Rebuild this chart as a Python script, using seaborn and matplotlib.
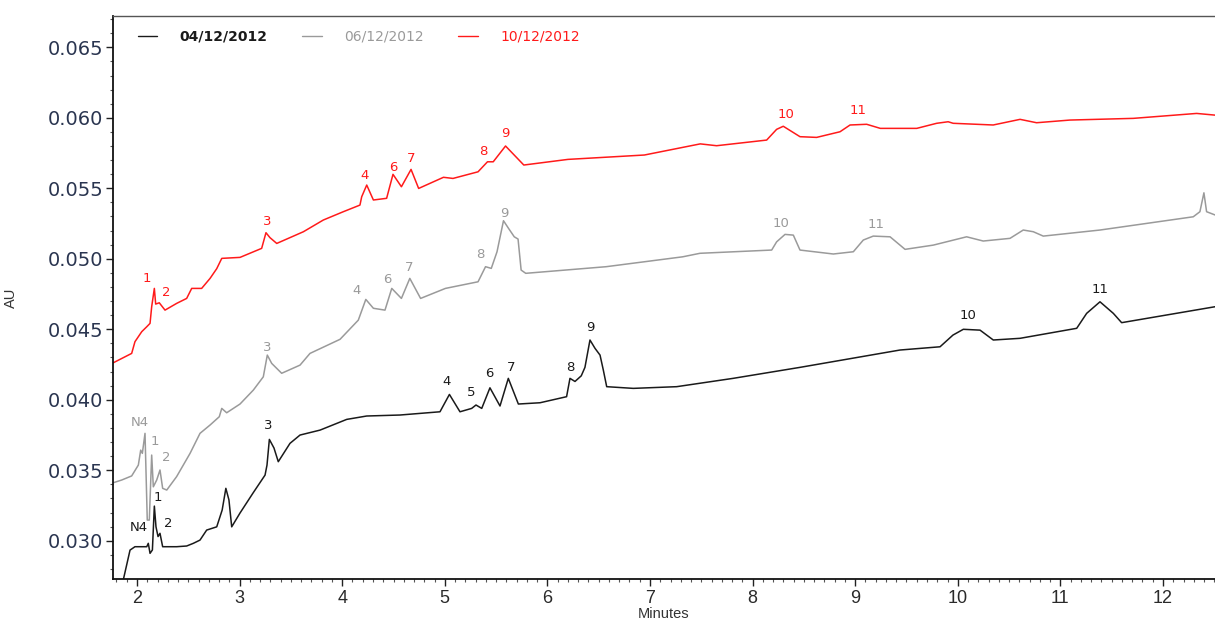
import numpy as np
import pandas as pd
import matplotlib
matplotlib.use("Agg")
import matplotlib.pyplot as plt
from matplotlib.ticker import MultipleLocator, FormatStrFormatter
import seaborn as sns

# Chromatogram traces: retention time (min) and absorbance (AU)
t_0412 = [1.866, 1.932, 1.980, 2.095, 2.110, 2.127, 2.150, 2.169, 2.185, 2.205,
          2.224, 2.250, 2.386, 2.484, 2.549, 2.614, 2.679, 2.777, 2.830, 2.866,
          2.896, 2.923, 3.004, 3.131, 3.248, 3.267, 3.290, 3.335, 3.377, 3.491,
          3.589, 3.784, 4.044, 4.239, 4.563, 4.953, 5.045, 5.148, 5.262, 5.304,
          5.360, 5.440, 5.538, 5.619, 5.717, 5.928, 6.187, 6.220, 6.269, 6.330,
          6.366, 6.415, 6.464, 6.513, 6.545, 6.578, 6.837, 7.260, 7.810, 8.462,
          9.437, 9.827, 9.953, 10.054, 10.217, 10.346, 10.607, 11.159, 11.256,
          11.386, 11.516, 11.597, 12.507]
au_0412 = [0.02722, 0.02934, 0.02958, 0.02958, 0.02982, 0.02911, 0.02935, 0.03246, 0.03099, 0.03030,
           0.03053, 0.02958, 0.02958, 0.02963, 0.02982, 0.03005, 0.03076, 0.03099, 0.03218, 0.03372,
           0.03290, 0.03099, 0.03197, 0.03339, 0.03466, 0.03537, 0.03719, 0.03658, 0.03561, 0.03691,
           0.03750, 0.03785, 0.03861, 0.03885, 0.03892, 0.03915, 0.04038, 0.03915, 0.03939, 0.03963,
           0.03939, 0.04085, 0.03956, 0.04152, 0.03970, 0.03979, 0.04022, 0.04152, 0.04130, 0.04170,
           0.04230, 0.04424, 0.04365, 0.04317, 0.04211, 0.04093, 0.04081, 0.04093, 0.04152, 0.04230,
           0.04353, 0.04376, 0.04459, 0.04500, 0.04494, 0.04424, 0.04436, 0.04507, 0.04613,
           0.04695, 0.04613, 0.04547, 0.04660]

t_0612 = [1.770, 1.851, 1.948, 2.013, 2.036, 2.052, 2.078, 2.100, 2.120, 2.143,
          2.159, 2.192, 2.224, 2.250, 2.290, 2.386, 2.517, 2.614, 2.712, 2.802,
          2.826, 2.874, 3.004, 3.134, 3.231, 3.270, 3.313, 3.410, 3.589, 3.686,
          3.979, 4.157, 4.230, 4.304, 4.417, 4.483, 4.577, 4.659, 4.764, 5.006,
          5.324, 5.397, 5.453, 5.509, 5.572, 5.621, 5.677, 5.714, 5.744, 5.789,
          6.573, 7.318, 7.487, 8.186, 8.234, 8.316, 8.397, 8.462, 8.787, 8.982,
          9.079, 9.176, 9.340, 9.486, 9.761, 10.086, 10.248, 10.509, 10.638, 10.736,
          10.833, 11.386, 12.295, 12.360, 12.399, 12.425, 12.507]
au_0612 = [0.03412, 0.03431, 0.03460, 0.03537, 0.03643, 0.03620, 0.03762, 0.03147, 0.03147, 0.03608,
           0.03383, 0.03431, 0.03502, 0.03372, 0.03360, 0.03455, 0.03620, 0.03762, 0.03821, 0.03880,
           0.03939, 0.03908, 0.03970, 0.04069, 0.04163, 0.04317, 0.04258, 0.04188, 0.04246, 0.04329,
           0.04429, 0.04565, 0.04712, 0.04649, 0.04636, 0.04790, 0.04719, 0.04861, 0.04719, 0.04790,
           0.04837, 0.04944, 0.04932, 0.05050, 0.05270, 0.05216, 0.05156, 0.05140, 0.04920, 0.04897,
           0.04944, 0.05014, 0.05039, 0.05062, 0.05120, 0.05173, 0.05168, 0.05062, 0.05034, 0.05050,
           0.05133, 0.05161, 0.05156, 0.05067, 0.05097, 0.05156, 0.05126, 0.05145, 0.05204, 0.05192,
           0.05161, 0.05204, 0.05298, 0.05334, 0.05468, 0.05334, 0.05311]

t_1012 = [1.770, 1.948, 1.980, 2.046, 2.095, 2.127, 2.143, 2.169, 2.182, 2.217,
          2.273, 2.387, 2.484, 2.533, 2.630, 2.712, 2.777, 2.826, 3.004, 3.215,
          3.257, 3.296, 3.362, 3.622, 3.816, 4.011, 4.173, 4.190, 4.239, 4.304,
          4.433, 4.495, 4.577, 4.671, 4.745, 4.987, 5.080, 5.324, 5.416, 5.472,
          5.592, 5.770, 6.200, 6.945, 7.490, 7.649, 8.137, 8.234, 8.299, 8.462,
          8.624, 8.852, 8.950, 9.112, 9.245, 9.600, 9.794, 9.906, 9.955, 10.345,
          10.607, 10.768, 11.093, 11.711, 12.328, 12.507]
au_1012 = [0.04263, 0.04329, 0.04412, 0.04483, 0.04518, 0.04542, 0.04660, 0.04790, 0.04679, 0.04688,
           0.04636, 0.04684, 0.04719, 0.04790, 0.04790, 0.04861, 0.04930, 0.05003, 0.05010, 0.05074,
           0.05185, 0.05150, 0.05109, 0.05192, 0.05275, 0.05334, 0.05381, 0.05440, 0.05523, 0.05417,
           0.05429, 0.05599, 0.05511, 0.05634, 0.05499, 0.05578, 0.05570, 0.05617, 0.05688, 0.05688,
           0.05800, 0.05665, 0.05705, 0.05736, 0.05815, 0.05802, 0.05842, 0.05918, 0.05940, 0.05866,
           0.05861, 0.05901, 0.05949, 0.05954, 0.05925, 0.05925, 0.05961, 0.05972, 0.05961, 0.05949,
           0.05989, 0.05965, 0.05984, 0.05996, 0.06031, 0.06019]

dates = ["04/12/2012", "06/12/2012", "10/12/2012"]
colors = ["#1a1a1a", "#9a9a9a", "#ff1a1a"]

# Peak annotations: label, time, absorbance
peaks_0412 = [("N4", 2.019, 0.03097), ("1", 2.205, 0.03310), ("2", 2.302, 0.03126),
              ("3", 3.277, 0.03821), ("4", 5.021, 0.04133), ("5", 5.255, 0.04055),
              ("6", 5.431, 0.04190), ("7", 5.645, 0.04232), ("8", 6.220, 0.04232),
              ("9", 6.415, 0.04516), ("10", 10.099, 0.04601), ("11", 11.386, 0.04785)]
peaks_0612 = [("N4", 2.029, 0.03842), ("1", 2.175, 0.03707), ("2", 2.283, 0.03594),
              ("3", 3.267, 0.04374), ("4", 4.144, 0.04778), ("6", 4.437, 0.04856),
              ("7", 4.651, 0.04941), ("8", 5.343, 0.05027), ("9", 5.577, 0.05324),
              ("10", 8.277, 0.05253), ("11", 9.203, 0.05246)]
peaks_1012 = [("1", 2.097, 0.04863), ("2", 2.283, 0.04764), ("3", 3.267, 0.05268),
              ("4", 4.222, 0.05594), ("6", 4.495, 0.05651), ("7", 4.671, 0.05714),
              ("8", 5.372, 0.05764), ("9", 5.587, 0.05892), ("10", 8.325, 0.06026),
              ("11", 9.027, 0.06055)]

sns.set_style("ticks")
plt.rcParams["font.family"] = ["DejaVu Sans"]

df = pd.concat([
    pd.DataFrame({"Minutes": t_0412, "AU": au_0412, "run": dates[0]}),
    pd.DataFrame({"Minutes": t_0612, "AU": au_0612, "run": dates[1]}),
    pd.DataFrame({"Minutes": t_1012, "AU": au_1012, "run": dates[2]}),
], ignore_index=True)

fig = plt.figure(figsize=(12.15, 6.22), dpi=100)
ax = fig.add_axes([113 / 1215, 43 / 622, 1102 / 1215, 563 / 622])

sns.lineplot(data=df, x="Minutes", y="AU", hue="run", hue_order=dates,
             palette=dict(zip(dates, colors)), estimator=None, sort=False,
             linewidth=1.1, ax=ax)

for peaks, col in zip([peaks_0412, peaks_0612, peaks_1012], colors):
    for lab, px, py in peaks:
        ax.text(px, py, lab, color=col, fontsize=9.5, ha="center", va="center")

ax.set_xlim(1.766, 12.507)
ax.set_ylim(0.02729, 0.06722)

ax.xaxis.set_major_locator(MultipleLocator(1))
ax.xaxis.set_minor_locator(MultipleLocator(0.1))
ax.yaxis.set_major_locator(MultipleLocator(0.005))
ax.yaxis.set_minor_locator(MultipleLocator(0.001))
ax.yaxis.set_major_formatter(FormatStrFormatter("%.3f"))

ax.tick_params(axis="both", which="major", direction="out", length=5, width=1, color="#222222")
ax.tick_params(axis="both", which="minor", direction="out", length=2.5, width=0.8, color="#555555")
ax.tick_params(axis="y", which="major", labelsize=14, labelcolor="#2a3550", pad=2)
ax.tick_params(axis="x", which="major", labelsize=13, labelcolor="#2a2a2a", pad=3)
for lbl in ax.get_xticklabels():
    lbl.set_fontfamily("Liberation Sans")

for side in ["left", "bottom"]:
    ax.spines[side].set_color("#111111")
    ax.spines[side].set_linewidth(1.3)
ax.spines["top"].set_color("#555555")
ax.spines["top"].set_linewidth(1.0)
ax.spines["right"].set_visible(False)

ax.set_xlabel("Minutes", fontsize=10.5, family="Liberation Sans", color="#333333", labelpad=0)
ax.set_ylabel("AU", fontsize=10.5, family="Liberation Sans", color="#333333")
ax.yaxis.set_label_coords(-0.0865, 0.5)

leg = ax.legend(loc="upper left", bbox_to_anchor=(0.0227, 0.976), ncol=3, frameon=False,
                handlelength=1.4, handletextpad=1.6, columnspacing=2.5,
                borderaxespad=0, borderpad=0, fontsize=10)
for txt, col in zip(leg.get_texts(), colors):
    txt.set_color(col)
leg.get_texts()[0].set_fontweight("semibold")
for line in leg.get_lines():
    line.set_linewidth(1.0)

fig.savefig("out.png", dpi=100)
